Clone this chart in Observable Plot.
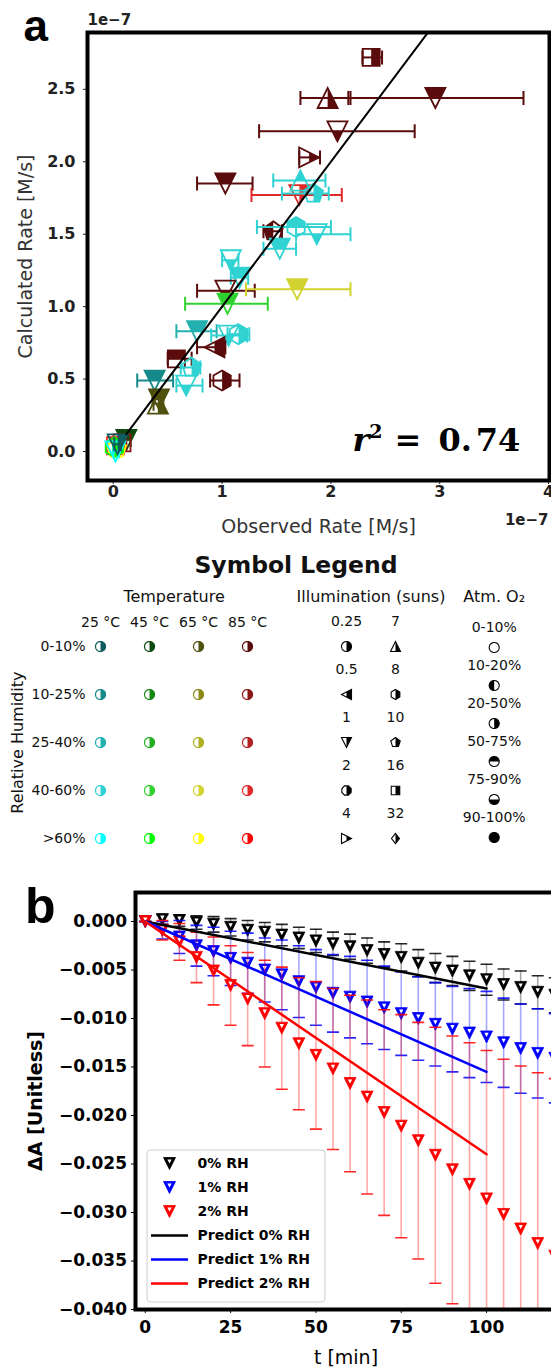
<!DOCTYPE html>
<html>
<head>
<meta charset="utf-8">
<script src="https://cdn.jsdelivr.net/npm/d3@7"></script>
<script src="https://cdn.jsdelivr.net/npm/@observablehq/plot@0.6"></script>
<style>
  html, body { margin: 0; padding: 0; background: #fff; }
  #root { position: relative; width: 551px; height: 1370px; overflow: hidden; background: #fff; font-family: "DejaVu Sans", sans-serif; }
  .layer { position: absolute; }
  .layer svg { display: block; max-width: none !important; }
  #legendTitle { position: absolute; left: 0; width: 592px; top: 551px; text-align: center; font: bold 23.5px "DejaVu Sans"; color: #111; line-height: 28px; }
</style>
</head>
<body>
<div id="root"><div id="legendTitle">Symbol Legend</div></div>
<script>
// ================= Panel a data (rates in units of 1e-7 M/s) =================
const obsRate  = [2.37, 1.97, 2.96, 2.06, 1.80, 1.03, 1.71, 1.72, 1.84, 1.47, 1.68, 1.87, 1.53, 1.08, 1.16, 1.03, 1.69, 1.05, 0.77, 1.06, 1.15, 0.93, 0.58, 0.72, 0.38, 0.67, 1.00, 0.42, 0.41, 0.12, 0.08, 0.02, 0.03, 0.01, 0.02, 0.04];
const calcRate = [2.72, 2.44, 2.44, 2.21, 2.03, 1.85, 1.77, 1.87, 1.78, 1.52, 1.55, 1.50, 1.40, 1.32, 1.20, 1.11, 1.12, 1.02, 0.83, 0.80, 0.81, 0.72, 0.64, 0.58, 0.49, 0.455, 0.49, 0.36, 0.33, 0.08, 0.06, 0.04, 0.02, 0.03, 0.00, 0.05];
const obsLow   = [2.29, 1.72, 2.16, 1.34, 1.71, 0.77, 1.27, 1.47, 1.55, 1.38, 1.32, 1.68, 1.38, 1.00, 1.08, 0.77, 1.22, 0.66, 0.58, 0.90, 1.05, 0.77, 0.50, 0.62, 0.22, 0.58, 0.89, 0.36, 0.37, 0.08, 0.04, 0.00, 0.01, 0.00, 0.00, 0.01];
const obsHigh  = [2.47, 2.18, 3.77, 2.77, 1.90, 1.28, 2.10, 1.95, 1.98, 1.55, 2.00, 2.18, 1.68, 1.15, 1.24, 1.30, 2.18, 1.42, 0.95, 1.23, 1.25, 1.03, 0.72, 0.80, 0.55, 0.82, 1.16, 0.46, 0.45, 0.16, 0.12, 0.05, 0.06, 0.04, 0.05, 0.07];
const ptTemp = ["85 °C","85 °C","85 °C","85 °C","85 °C","85 °C","85 °C","25 °C","25 °C","85 °C","25 °C","25 °C","25 °C","25 °C","25 °C","85 °C","65 °C","45 °C","25 °C","25 °C","25 °C","85 °C","85 °C","25 °C","25 °C","25 °C","85 °C","65 °C","65 °C","45 °C","85 °C","85 °C","65 °C","45 °C","25 °C","25 °C"];
const ptRH   = ["0-10%","0-10%","0-10%","0-10%","0-10%","0-10%","40-60%","40-60%","40-60%","0-10%","40-60%","40-60%","40-60%","40-60%","40-60%","0-10%","40-60%","40-60%","25-40%","40-60%","40-60%","0-10%","0-10%","40-60%","10-25%","40-60%","0-10%","0-10%","0-10%","0-10%","10-25%","40-60%",">60%",">60%",">60%","0-10%"];
const ptSuns = ["16","7","1","1","4","1","1","7","10","10","8","1","1","1","1","1","1","1","1","1","8","0.5","16","10","1","1","8","1","7","1","16","16","10","8","1","1"];
const ptO2   = ["20-50%","20-50%","50-75%","75-90%","20-50%","50-75%","20-50%","50-75%","20-50%","10-20%","50-75%","75-90%","50-75%","75-90%","50-75%","75-90%","50-75%","50-75%","50-75%","75-90%","20-50%","20-50%","50-75%","20-50%","50-75%","75-90%","20-50%","50-75%","20-50%","50-75%","0-10%","0-10%","0-10%","20-50%","0-10%","20-50%"];
const fitObs  = [0.12, 2.95];
const fitCalc = [0.12, 2.95];
const rSquared = "0.74";
const xTicksA = [0, 1, 2, 3, 4];
const yTicksA = [0, 0.5, 1, 1.5, 2, 2.5];

// ================= Symbol legend =================
const tempLabels = ["25 °C", "45 °C", "65 °C", "85 °C"];
const rhLabels   = ["0-10%", "10-25%", "25-40%", "40-60%", ">60%"];
const colors25 = ["#0e5c5c", "#168a8a", "#22b0b0", "#30d2d2", "#00ffff"];
const colors45 = ["#0e4a0e", "#168a16", "#22b022", "#30d230", "#00ff00"];
const colors65 = ["#4f4f0e", "#8a8a16", "#b0b022", "#d2d230", "#ffff00"];
const colors85 = ["#5a0c0c", "#8a1616", "#b02222", "#e02a2a", "#ff0000"];
const sunsLabels  = ["0.25", "0.5", "1", "2", "4", "7", "8", "10", "16", "32"];
const sunsMarkers = ["o", "<", "v", "8", ">", "^", "h", "p", "s", "D"];
const o2Labels = ["0-10%", "10-20%", "20-50%", "50-75%", "75-90%", "90-100%"];
const o2Fills  = ["none", "left", "right", "top", "bottom", "full"];

// ================= Panel b data =================
const tMin = [0, 5, 10, 15, 20, 25, 30, 35, 40, 45, 50, 55, 60, 65, 70, 75, 80, 85, 90, 95, 100, 105, 110, 115, 120];
const dA0  = [0.0000, 0.0002, 0.0001, -0.0001, -0.0003, -0.0006, -0.0009, -0.0011, -0.0014, -0.0017, -0.0020, -0.0023, -0.0026, -0.0030, -0.0034, -0.0037, -0.0043, -0.0048, -0.0051, -0.0056, -0.0060, -0.0065, -0.0068, -0.0073, -0.0076];
const err0 = [0.0000, 0.0005, 0.0006, 0.0007, 0.0008, 0.0009, 0.0010, 0.0010, 0.0011, 0.0011, 0.0012, 0.0012, 0.0013, 0.0013, 0.0013, 0.0014, 0.0014, 0.0015, 0.0015, 0.0015, 0.0016, 0.0016, 0.0017, 0.0017, 0.0018];
const dA1  = [0.0000, -0.0009, -0.0016, -0.0025, -0.0031, -0.0038, -0.0043, -0.0050, -0.0055, -0.0062, -0.0068, -0.0074, -0.0078, -0.0083, -0.0089, -0.0095, -0.0100, -0.0106, -0.0111, -0.0115, -0.0119, -0.0125, -0.0131, -0.0136, -0.0141];
const err1 = [0.0000, 0.0009, 0.0017, 0.0021, 0.0025, 0.0028, 0.0031, 0.0033, 0.0036, 0.0037, 0.0039, 0.0040, 0.0042, 0.0043, 0.0043, 0.0043, 0.0043, 0.0043, 0.0044, 0.0046, 0.0047, 0.0046, 0.0046, 0.0046, 0.0046];
const dA2  = [0.0000, -0.0009, -0.0021, -0.0037, -0.0051, -0.0066, -0.0080, -0.0095, -0.0110, -0.0126, -0.0138, -0.0152, -0.0167, -0.0181, -0.0197, -0.0211, -0.0226, -0.0241, -0.0256, -0.0271, -0.0286, -0.0302, -0.0317, -0.0332, -0.0345];
const err2 = [0.0000, 0.0010, 0.0019, 0.0026, 0.0035, 0.0041, 0.0048, 0.0055, 0.0063, 0.0068, 0.0076, 0.0083, 0.0091, 0.0100, 0.0106, 0.0115, 0.0122, 0.0132, 0.0138, 0.0146, 0.0153, 0.0160, 0.0168, 0.0176, 0.0183];
const predT = [0, 100];
const pred0 = [0, -0.0069];
const pred1 = [0, -0.0155];
const pred2 = [0, -0.0240];
const seriesNames  = ["0% RH", "1% RH", "2% RH"];
const predNames    = ["Predict 0% RH", "Predict 1% RH", "Predict 2% RH"];
const seriesColors = ["#000000", "#0000ff", "#ff0000"];
const xTicksB = [0, 25, 50, 75, 100];
const yTicksB = [0, -0.005, -0.010, -0.015, -0.020, -0.025, -0.030, -0.035, -0.040];

// ================= helpers =================
const FONT = "DejaVu Sans";
const palette = {"25 °C": colors25, "45 °C": colors45, "65 °C": colors65, "85 °C": colors85};
function ring(n, a0) { return d3.range(n).map(i => [Math.cos(a0 + 2 * Math.PI * i / n), Math.sin(a0 + 2 * Math.PI * i / n)]); }
const shapes = {
  "o": ring(48, 0), "8": ring(8, Math.PI / 8), "h": ring(6, -Math.PI / 2), "p": ring(5, -Math.PI / 2),
  "s": [[-0.85, -0.85], [0.85, -0.85], [0.85, 0.85], [-0.85, 0.85]],
  "D": [[0, -1], [0.8, 0], [0, 1], [-0.8, 0]],
  "v": [[0, 1], [-1, -1], [1, -1]], "^": [[0, -1], [1, 1], [-1, 1]],
  "<": [[-1, 0], [1, -1], [1, 1]], ">": [[1, 0], [-1, 1], [-1, -1]],
  "vbar": [[0, -1], [0, 1]], "hbar": [[-1, 0], [1, 0]],
  "vdot": [[0, 0.02], [-0.36, -0.68], [0.36, -0.68]]
};
function clipHalf(poly, side) {
  const inside = {left: p => p[0] <= 0, right: p => p[0] >= 0, top: p => p[1] <= 0, bottom: p => p[1] >= 0}[side];
  const vertical = side === "left" || side === "right";
  const inter = (a, b) => {
    if (vertical) { const t = a[0] / (a[0] - b[0]); return [0, a[1] + t * (b[1] - a[1])]; }
    const t = a[1] / (a[1] - b[1]); return [a[0] + t * (b[0] - a[0]), 0];
  };
  const out = [];
  for (let i = 0; i < poly.length; i++) {
    const a = poly[i], b = poly[(i + 1) % poly.length];
    const ia = inside(a), ib = inside(b);
    if (ia) out.push(a);
    if (ia !== ib) out.push(inter(a, b));
  }
  return out;
}
function symbolFrom(poly) {
  return {draw(ctx, size) {
    const r = Math.sqrt(size / Math.PI);
    poly.forEach(([x, y], i) => i ? ctx.lineTo(x * r, y * r) : ctx.moveTo(x * r, y * r));
    ctx.closePath();
  }};
}
const sym = name => symbolFrom(shapes[name]);
function markerMarks(data, {x, y, shape, side, r, color, strokeWidth}) {
  const poly = shapes[shape];
  const marks = [];
  if (side !== "none") {
    const fp = side === "full" ? poly : clipHalf(poly, side);
    marks.push(Plot.dot(data, {x, y, r, symbol: symbolFrom(fp), fill: color, stroke: "none"}));
  }
  marks.push(Plot.dot(data, {x, y, r, symbol: symbolFrom(poly), fill: "none", stroke: color, strokeWidth}));
  return marks;
}
const root = document.getElementById("root");
function place(node, top, left) {
  const d = document.createElement("div");
  d.className = "layer";
  d.style.top = top + "px"; d.style.left = left + "px";
  d.appendChild(node); root.appendChild(d);
}
const baseStyle = {fontFamily: FONT, background: "transparent", overflow: "visible", maxWidth: "none"};
const M = "middle";

// ================= Panel a =================
const pointsA = obsRate.map((x, i) => ({
  x, y: calcRate[i], lo: obsLow[i], hi: obsHigh[i],
  color: palette[ptTemp[i]][rhLabels.indexOf(ptRH[i])],
  shape: sunsMarkers[sunsLabels.indexOf(ptSuns[i])],
  side: o2Fills[o2Labels.indexOf(ptO2[i])]
}));
const pointMarksA = pointsA.flatMap(p => [
  Plot.link([p], {x1: "lo", x2: "hi", y1: "y", y2: "y", stroke: "color", strokeWidth: 2}),
  Plot.dot([p.lo, p.hi].map(v => ({v, y: p.y, color: p.color})), {x: "v", y: "y", r: 7, symbol: sym("vbar"), stroke: "color", strokeWidth: 2, fill: "none"}),
  ...markerMarks([p], {x: "x", y: "y", shape: p.shape, side: p.side, r: 10, color: "color", strokeWidth: 1.8})
]);
const svgA = Plot.plot({
  width: 551, height: 550,
  marginLeft: 87, marginRight: 2, marginTop: 32, marginBottom: 70,
  x: {domain: [-0.237, 4.009]},
  y: {domain: [-0.2, 2.892]},
  color: {type: "identity"},
  style: baseStyle,
  marks: [
    Plot.axisY({ticks: yTicksA, tickFormat: d3.format(".1f"), tickSize: 4, tickPadding: 8, fontSize: 16, fontWeight: "bold", label: null, color: "#222"}),
    Plot.axisX({ticks: xTicksA, tickFormat: d3.format("d"), tickSize: 4, tickPadding: 1, fontSize: 16, fontWeight: "bold", label: null, color: "#222"}),
    ...pointMarksA,
    Plot.line(fitObs.map((x, i) => ({x, y: fitCalc[i]})), {x: "x", y: "y", stroke: "black", strokeWidth: 2, clip: true}),
    Plot.text([`r2 = ${rSquared}`], {frameAnchor: "bottom-left", textAnchor: "start", lineAnchor: M, dx: 265, dy: -40, fontSize: 32, fontFamily: "DejaVu Serif", fontWeight: "bold", fill: "black"}),
    Plot.text(["1e−7"], {frameAnchor: "top-left", textAnchor: "start", lineAnchor: M, dy: -12.3, fontSize: 15, fontWeight: "bold", fill: "#222"}),
    Plot.text(["1e−7"], {frameAnchor: "bottom-right", textAnchor: "end", lineAnchor: M, dx: -1, dy: 40, fontSize: 15, fontWeight: "bold", fill: "#222"}),
    Plot.text(["Observed Rate [M/s]"], {frameAnchor: "bottom", lineAnchor: M, dy: 46, fontSize: 19, fill: "#333"}),
    Plot.text(["Calculated Rate [M/s]"], {frameAnchor: "left", textAnchor: M, lineAnchor: M, dx: -62, rotate: -90, fontSize: 19, fill: "#333"}),
    Plot.text(["a"], {frameAnchor: "top-left", textAnchor: "start", lineAnchor: M, dx: -64, dy: -6, fontSize: 44, fontWeight: "bold", fontFamily: "Liberation Sans", fill: "black"}),
    Plot.frame({stroke: "black", strokeWidth: 4})
  ]
});
d3.select(svgA).selectAll("text").filter(function() { return this.textContent === `r2 = ${rSquared}`; }).each(function() {
  const t = d3.select(this);
  t.text(null);
  t.append("tspan").attr("font-style", "italic").text("r");
  t.append("tspan").attr("font-size", 19).attr("dy", -13).text("2");
  t.append("tspan").attr("dy", 13).attr("dx", 12).text("=");
  t.append("tspan").attr("dx", 17).text(rSquared.slice(0, 2));
  t.append("tspan").attr("dx", 4).text(rSquared.slice(2));
});
place(svgA, 0, 0);

// ================= Symbol legend =================
const lgTop = 96, lgBottom = 21.7;
const gridRows = tempLabels.flatMap(t => rhLabels.map((h, j) => ({t, h, color: palette[t][j]})));
const svgTemp = Plot.plot({
  width: 551, height: 310, marginLeft: 99.4, marginRight: 303.3, marginTop: lgTop, marginBottom: lgBottom,
  x: {type: "point", domain: tempLabels, padding: 0, axis: null},
  y: {type: "point", domain: rhLabels, padding: 0, axis: null},
  color: {type: "identity"},
  style: baseStyle,
  marks: [
    Plot.text(["Temperature"], {frameAnchor: "top", lineAnchor: M, dy: -49.3, fontSize: 16, fill: "#111"}),
    Plot.text(tempLabels, {x: d => d, frameAnchor: "top", lineAnchor: M, dy: -24.3, fontSize: 14, fill: "#111"}),
    Plot.text(rhLabels, {y: d => d, frameAnchor: "left", lineAnchor: M, dx: -14.4, textAnchor: "end", fontSize: 14, fill: "#111"}),
    Plot.text(["Relative Humidity"], {frameAnchor: "left", textAnchor: M, lineAnchor: M, dx: -81.8, rotate: -90, fontSize: 16, fill: "#111"}),
    ...markerMarks(gridRows, {x: "t", y: "h", shape: "o", side: "right", r: 5, color: "color", strokeWidth: 1.2})
  ]
});
place(svgTemp, 550, 0);

const illumRows = sunsLabels.map((s, i) => ({s, col: i < 5 ? "A" : "B", row: i % 5, shape: sunsMarkers[i]}));
const svgIllum = Plot.plot({
  width: 551, height: 310, marginLeft: 346, marginRight: 156, marginTop: lgTop, marginBottom: lgBottom,
  x: {type: "point", domain: ["A", "B"], padding: 0, axis: null},
  y: {type: "point", domain: [0, 1, 2, 3, 4], padding: 0, axis: null},
  style: baseStyle,
  marks: [
    Plot.text(["Illumination (suns)"], {frameAnchor: "top", lineAnchor: M, dy: -49.3, fontSize: 16, fill: "#111"}),
    Plot.text(illumRows, {x: "col", y: "row", text: "s", lineAnchor: M, dy: -24.5, fontSize: 14, fill: "#111"}),
    ...illumRows.flatMap(d => markerMarks([d], {x: "col", y: "row", shape: d.shape, side: "right", r: 5, color: "black", strokeWidth: 1.1}))
  ]
});
place(svgIllum, 550, 0);

const o2Rows = o2Labels.map((l, i) => ({l, side: o2Fills[i]}));
const svgO2 = Plot.plot({
  width: 551, height: 310, marginLeft: 436.4, marginRight: 0, marginTop: lgTop, marginBottom: lgBottom,
  y: {type: "point", domain: o2Labels, padding: 0, axis: null},
  style: baseStyle,
  marks: [
    Plot.text(["Atm. O₂"], {frameAnchor: "top", lineAnchor: M, dy: -49.3, fontSize: 16, fill: "#111"}),
    Plot.text(o2Labels, {y: d => d, lineAnchor: M, dy: -19.5, fontSize: 14, fill: "#111"}),
    ...o2Rows.flatMap(d => markerMarks([d], {y: "l", shape: "o", side: d.side, r: 5, color: "black", strokeWidth: 1.1}))
  ]
});
place(svgO2, 550, 0);

// ================= Panel b =================
const seriesData = [dA0, dA1, dA2].map((vals, k) => {
  const errs = [err0, err1, err2][k];
  return tMin.map((t, i) => ({t, v: vals[i], lo: vals[i] - errs[i], hi: vals[i] + errs[i]}));
});
const seriesMarks = seriesData.flatMap((rows, k) => {
  const c = seriesColors[k];
  return [
    Plot.ruleX(rows, {x: "t", y1: "lo", y2: "hi", stroke: c, strokeOpacity: 0.35, strokeWidth: 1.6, clip: true}),
    Plot.dot(rows.flatMap(d => [{t: d.t, v: d.lo}, {t: d.t, v: d.hi}]), {x: "t", y: "v", r: 6, symbol: sym("hbar"), stroke: c, strokeOpacity: 0.85, strokeWidth: 1.6, fill: "none", clip: true}),
    Plot.dot(rows, {x: "t", y: "v", r: 6, symbol: sym("v"), fill: c, stroke: c, strokeWidth: 0.8, clip: true}),
    Plot.dot(rows, {x: "t", y: "v", r: 6, symbol: sym("vdot"), fill: "white", stroke: "none", clip: true})
  ];
});
const predMarks = [pred0, pred1, pred2].map((vals, k) =>
  Plot.line(predT.map((t, i) => ({t, v: vals[i]})), {x: "t", y: "v", stroke: seriesColors[k], strokeWidth: 2.5})
);
const svgB = Plot.plot({
  width: 560, height: 510,
  marginLeft: 135, marginRight: 4, marginTop: 32, marginBottom: 61,
  x: {domain: [-2.87, 120.5]},
  y: {domain: [-0.040, 0.00299]},
  style: baseStyle,
  marks: [
    Plot.axisY({ticks: yTicksB, tickFormat: d3.format(".3f"), tickSize: 4, tickPadding: 4.5, fontSize: 17, fontWeight: "bold", label: null, color: "#000"}),
    Plot.axisX({ticks: xTicksB, tickFormat: d3.format("d"), tickSize: 4, tickPadding: 7, fontSize: 17, fontWeight: "bold", label: null, color: "#000"}),
    ...seriesMarks,
    ...predMarks,
    Plot.text(["ΔA [Unitless]"], {frameAnchor: "left", textAnchor: M, lineAnchor: M, dx: -100, rotate: -90, fontSize: 19, fontWeight: "bold", fill: "black"}),
    Plot.text(["t [min]"], {frameAnchor: "bottom", lineAnchor: M, dy: 48, fontSize: 19, fill: "black"}),
    Plot.text(["b"], {frameAnchor: "top-left", textAnchor: "start", lineAnchor: M, dx: -110.4, dy: 14, fontSize: 50, fontWeight: "bold", fontFamily: "Liberation Sans", fill: "black"}),
    Plot.frame({stroke: "black", strokeWidth: 4})
  ]
});
place(svgB, 860, 0);

// legend of panel b
const legendRows = [
  ...seriesNames.map((label, k) => ({label, color: seriesColors[k], kind: "marker"})),
  ...predNames.map((label, k) => ({label, color: seriesColors[k], kind: "line"}))
];
const legendLabels = legendRows.map(d => d.label);
const markerRows = legendRows.filter(d => d.kind === "marker");
const lineRows = legendRows.filter(d => d.kind === "line");
const svgLegB = Plot.plot({
  width: 179, height: 153, margin: 0,
  x: {type: "point", domain: ["glyph", "label"], range: [22.7, 51.5], padding: 0, axis: null},
  y: {type: "point", domain: legendLabels, range: [13.4, 133.7], padding: 0, axis: null},
  color: {type: "identity"},
  style: baseStyle,
  marks: [
    Plot.frame({fill: "white", fillOpacity: 0.85, stroke: "#cccccc", strokeWidth: 1, rx: 3, inset: 0.5}),
    Plot.dot(markerRows, {x: () => "glyph", y: "label", r: 6, symbol: sym("v"), fill: "color", stroke: "color", strokeWidth: 0.8}),
    Plot.dot(markerRows, {x: () => "glyph", y: "label", r: 6, symbol: sym("vdot"), fill: "white", stroke: "none"}),
    Plot.dot(lineRows, {x: () => "glyph", y: "label", r: 18.5, symbol: sym("hbar"), stroke: "color", strokeWidth: 2.5, fill: "none"}),
    Plot.text(legendRows, {x: () => "label", y: "label", text: "label", textAnchor: "start", lineAnchor: M, fontSize: 14, fontWeight: "bold", fill: "black"})
  ]
});
place(svgLegB, 1149, 146);
</script>
</body>
</html>
